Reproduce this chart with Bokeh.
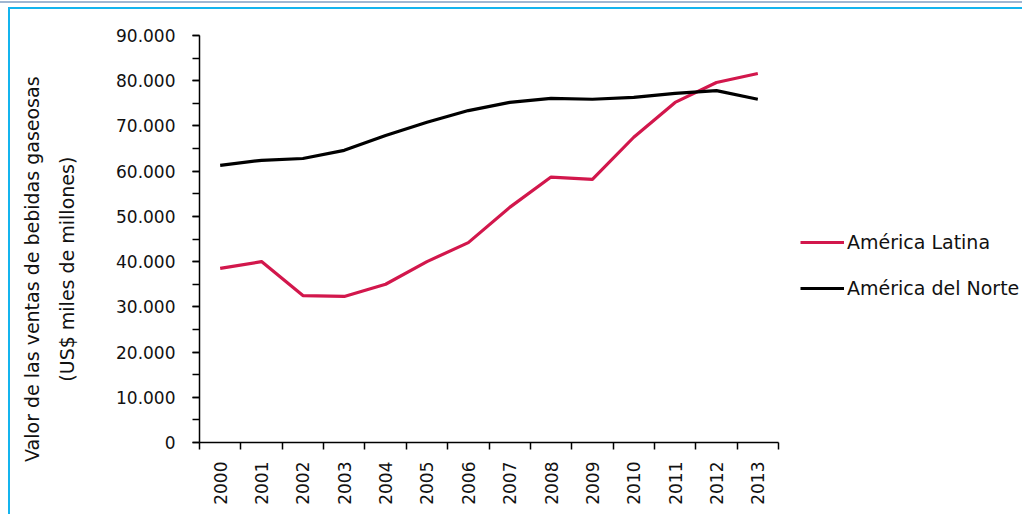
from math import pi

from bokeh.embed import file_html
from bokeh.models import FixedTicker, Legend, LegendItem, Range1d
from bokeh.plotting import figure
from bokeh.resources import INLINE

# Soft-drink sales value, US$ thousand millions
years = list(range(2000, 2014))
america_latina = [38500, 40000, 32500, 32300, 35000, 40000, 44200,
                  52000, 58700, 58200, 67500, 75200, 79600, 81600]
america_norte = [61300, 62400, 62800, 64600, 67900, 70800, 73400,
                 75200, 76100, 75900, 76300, 77200, 77800, 75900]
series_names = ["América Latina", "América del Norte"]
y_ticks = list(range(0, 90001, 10000))
y_title = ["Valor de las ventas de bebidas gaseosas", "(US$ miles de millones)"]

FONT = "DejaVu Sans"
RED = "#D2174C"
CYAN = "#14B4EE"

W, H = 1022, 514
LEFT, TOP, BOTTOM = 199, 35, 72
AXIS_W = 579                      # width of the year axis in pixels
FRAME_W = W - LEFT                # frame runs to the right edge, legend sits in it
x_start = years[0] - 0.5
x_axis_end = years[-1] + 0.5
x_end = x_start + (x_axis_end - x_start) * FRAME_W / AXIS_W

p = figure(width=W, height=H, output_backend="svg", toolbar_location=None,
           x_range=Range1d(x_start, x_end),
           y_range=Range1d(0, 90000),
           min_border_left=LEFT, min_border_right=0,
           min_border_top=TOP, min_border_bottom=BOTTOM)
p.outline_line_color = None
p.xgrid.visible = False
p.ygrid.visible = False
p.background_fill_color = "white"
p.border_fill_alpha = 0
# page frame: thin rules along the top and down the left side
p.styles = {
    "background": (
        f"linear-gradient(#9FB6D2, #9FB6D2) 0px 1px / 100% 2px no-repeat, "
        f"linear-gradient({CYAN}, {CYAN}) 9px 7px / 100% 2px no-repeat, "
        f"linear-gradient({CYAN}, {CYAN}) 8px 7px / 2px 100% no-repeat, "
        "white"
    )
}

# x axis: year labels centred in each slot, tick marks on slot boundaries
xa = p.xaxis[0]
xa.bounds = (x_start, x_axis_end)
xa.ticker = FixedTicker(ticks=years,
                        minor_ticks=[y - 0.5 for y in years] + [x_axis_end])
xa.major_tick_out = 0
xa.major_tick_in = 0
xa.minor_tick_out = 7
xa.minor_tick_in = 0
xa.axis_line_width = 1.5
xa.minor_tick_line_width = 1.5
xa.major_label_orientation = pi / 2
xa.major_label_standoff = 12
xa.major_label_text_font = FONT
xa.major_label_text_font_size = "17px"
xa.major_label_text_color = "#111111"

# y axis with dot thousands separator
ya = p.yaxis[0]
ya.ticker = FixedTicker(ticks=y_ticks, minor_ticks=list(range(0, 90001, 5000)))
ya.major_label_overrides = {t: f"{t:,}".replace(",", ".") for t in y_ticks}
ya.major_tick_out = 7
ya.major_tick_in = 0
ya.minor_tick_out = 7
ya.minor_tick_in = 0
ya.axis_line_width = 1.5
ya.major_tick_line_width = 1.5
ya.minor_tick_line_width = 1.5
ya.major_label_standoff = 17
ya.major_label_text_font = FONT
ya.major_label_text_font_size = "17px"
ya.major_label_text_color = "#111111"
# trailing no-break spaces push the centred title a little towards the bottom
pad = "\u00a0" * 10
ya.axis_label = "\n".join(line + pad for line in y_title)
ya.axis_label_standoff = 35
ya.axis_label_text_font = FONT
ya.axis_label_text_font_size = "19px"
ya.axis_label_text_font_style = "normal"
ya.axis_label_text_color = "#111111"
ya.axis_label_text_line_height = 1.58

r_lat = p.line(years, america_latina, line_color=RED, line_width=3.2,
               line_join="round")
r_nor = p.line(years, america_norte, line_color="black", line_width=3.2,
               line_join="round")

legend = Legend(items=[LegendItem(label=series_names[0], renderers=[r_lat]),
                       LegendItem(label=series_names[1], renderers=[r_nor])],
                location=(601, 143), orientation="vertical",
                glyph_width=44, glyph_height=20, label_height=20,
                label_standoff=3, spacing=24, padding=0, margin=0,
                border_line_color=None, background_fill_alpha=0,
                label_text_font=FONT, label_text_font_size="19px",
                label_text_color="#111111")
p.add_layout(legend)

open("out.html", "w").write(file_html(p, INLINE))
